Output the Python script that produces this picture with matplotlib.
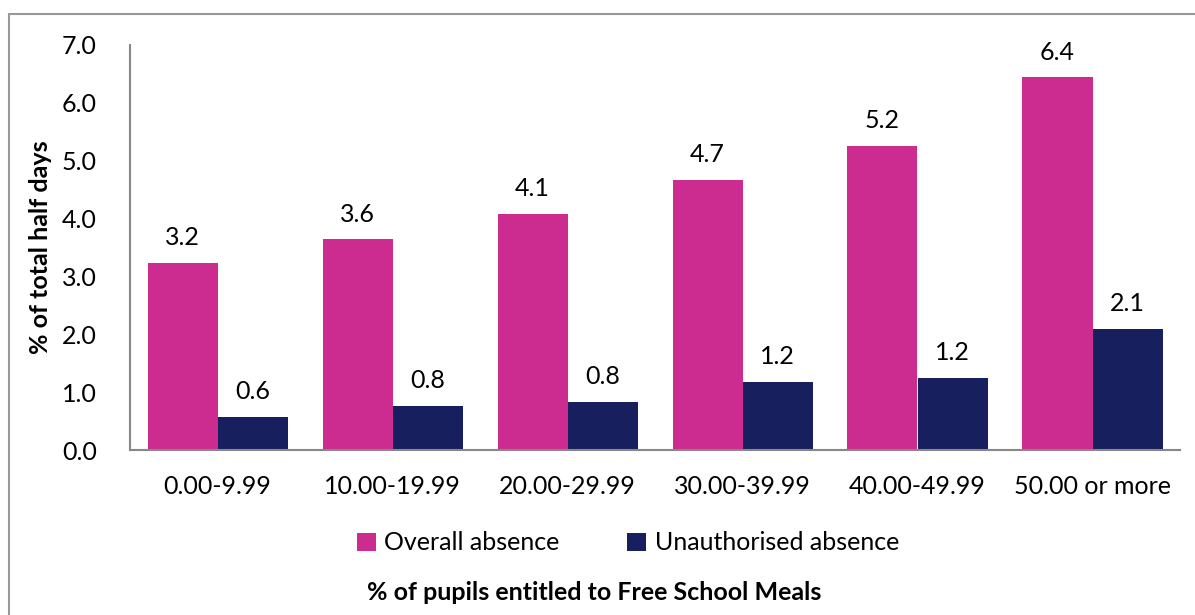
import matplotlib
matplotlib.use("Agg")
import matplotlib.pyplot as plt
import numpy as np
from matplotlib.patches import Rectangle

categories = ["0.00-9.99", "10.00-19.99", "20.00-29.99", "30.00-39.99", "40.00-49.99", "50.00 or more"]
overall = [3.24, 3.64, 4.08, 4.67, 5.25, 6.44]
unauth = [0.57, 0.76, 0.83, 1.18, 1.24, 2.09]
series_names = ["Overall absence", "Unauthorised absence"]
yticks = [0.0, 1.0, 2.0, 3.0, 4.0, 5.0, 6.0, 7.0]

plt.rcParams['font.family'] = ['Lato', 'DejaVu Sans']
pink = "#CC2C90"
navy = "#171F5E"
fs = 18

fig = plt.figure(figsize=(11.95, 6.15), dpi=100)
ax = fig.add_axes([130/1195, 1 - 450/615, 1050/1195, 405/615])

x = np.arange(len(categories))
w = 0.4
b1 = ax.bar(x - w/2, overall, w, color=pink, label=series_names[0])
b2 = ax.bar(x + w/2, unauth, w, color=navy, label=series_names[1])

for bars, vals in ((b1, overall), (b2, unauth)):
    for r, v in zip(bars, vals):
        ax.text(r.get_x() + r.get_width()/2, v + 0.24, f"{v:.1f}", ha="center", va="bottom", fontsize=fs)

ax.set_xlim(-0.5, len(categories) - 0.5)
ax.set_ylim(0, 7)
ax.set_yticks(yticks)
ax.set_yticklabels([f"{t:.1f}" for t in yticks], fontsize=fs)
ax.set_xticks(x)
ax.set_xticklabels(categories, fontsize=fs)
ax.tick_params(axis="x", length=0, pad=18)
ax.tick_params(axis="y", length=0, pad=24)
for s in ("top", "right"):
    ax.spines[s].set_visible(False)
for s in ("left", "bottom"):
    ax.spines[s].set_color("#888888")
    ax.spines[s].set_linewidth(1.5)

ax.set_ylabel("% of total half days", fontsize=fs, fontweight="bold")
ax.yaxis.set_label_coords(-78/1050, 0.5)

fig.text(594/1195, 1 - 593/615, "% of pupils entitled to Free School Meals", ha="center", va="center",
         fontsize=fs, fontweight="bold")

leg = fig.legend(handles=[b1, b2], loc="center", bbox_to_anchor=(628/1195, 1 - 543/615), ncol=2,
                 frameon=False, fontsize=fs, handlelength=0.75, handleheight=0.75, handletextpad=0.35,
                 columnspacing=2.7)

fig.patches.append(Rectangle((9/1195, -0.1), 1.2, (1 - 14/615) + 0.1, transform=fig.transFigure,
                             fill=False, edgecolor="#999999", linewidth=1.5))

fig.savefig("out.png", dpi=100)
